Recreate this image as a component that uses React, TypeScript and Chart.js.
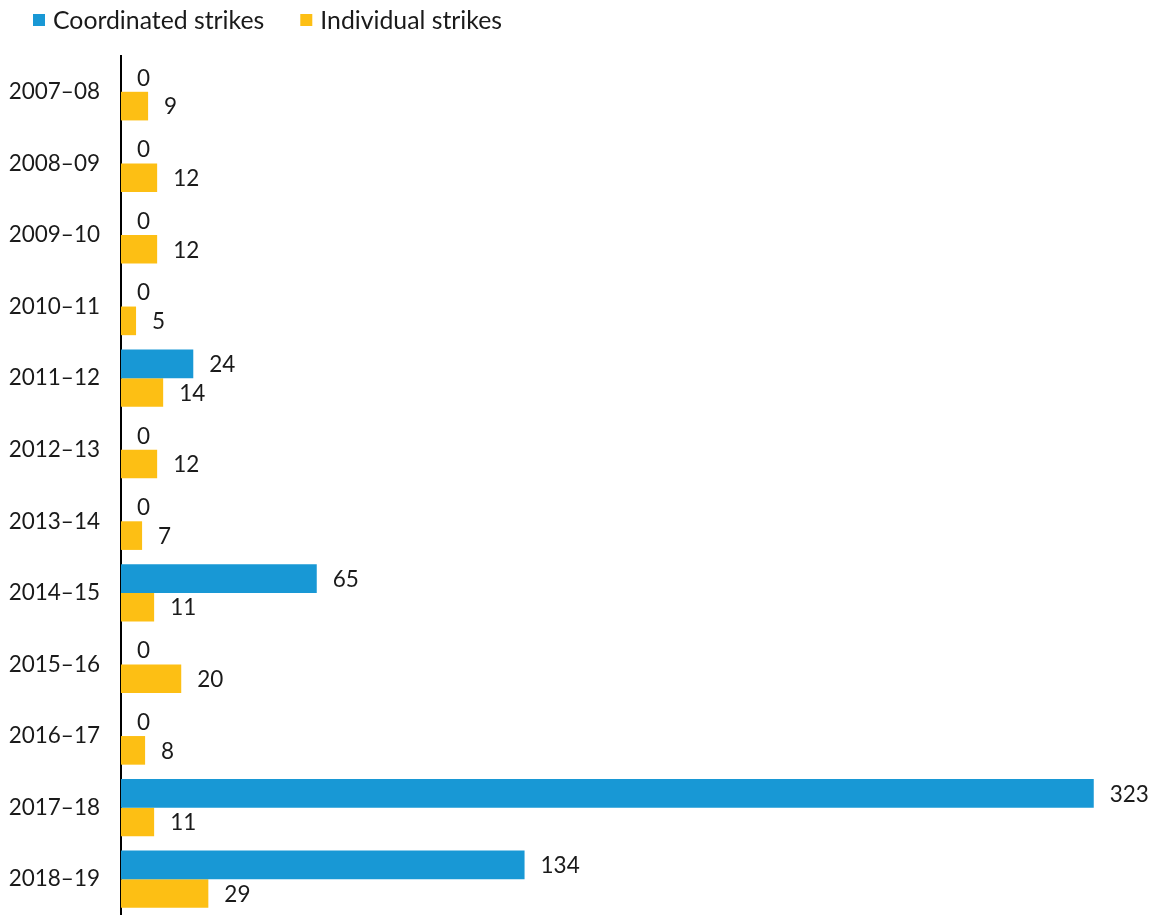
import React, { useEffect, useRef } from "react";
import { Chart, registerables } from "chart.js";

Chart.register(...registerables);

const seasons = [
  "2007\u201308", "2008\u201309", "2009\u201310", "2010\u201311", "2011\u201312", "2012\u201313",
  "2013\u201314", "2014\u201315", "2015\u201316", "2016\u201317", "2017\u201318", "2018\u201319",
];
const coordinated = [0, 0, 0, 0, 24, 0, 0, 65, 0, 0, 323, 134];
const individual = [9, 12, 12, 5, 14, 12, 7, 11, 20, 8, 11, 29];

const BLUE = "#1898d5";
const YELLOW = "#fdbf14";
const TEXT = "#1a1a1a";
const FONT = "Lato, 'Open Sans', sans-serif";

// Numbers written just past the end of each bar
const valueLabels = {
  id: "valueLabels",
  afterDatasetsDraw(chart: any) {
    const ctx = chart.ctx;
    ctx.save();
    ctx.font = `22.5px ${FONT}`;
    ctx.fillStyle = TEXT;
    ctx.textAlign = "left";
    ctx.textBaseline = "middle";
    chart.data.datasets.forEach((ds: any, i: number) => {
      const meta = chart.getDatasetMeta(i);
      meta.data.forEach((el: any, j: number) => {
        ctx.fillText(String(ds.data[j]), el.x + 16, el.y + 1);
      });
    });
    ctx.restore();
  },
};

// Legend row in the top-left corner: square swatch followed by the series name
const topLegend = {
  id: "topLegend",
  afterDraw(chart: any) {
    const ctx = chart.ctx;
    ctx.save();
    ctx.font = `24.8px ${FONT}`;
    ctx.textAlign = "left";
    ctx.textBaseline = "middle";
    let x = 33;
    const cy = 20;
    chart.data.datasets.forEach((ds: any) => {
      ctx.fillStyle = ds.backgroundColor;
      ctx.fillRect(x, cy - 6, 12, 12);
      ctx.fillStyle = TEXT;
      ctx.fillText(ds.label, x + 20, cy + 1);
      x += 20 + ctx.measureText(ds.label).width + 36;
    });
    ctx.restore();
  },
};

export default function App() {
  const ref = useRef<HTMLCanvasElement>(null);
  useEffect(() => {
    if (!ref.current) return;
    const chart = new Chart(ref.current, {
      type: "bar",
      data: {
        labels: seasons,
        datasets: [
          { label: "Coordinated strikes", data: coordinated, backgroundColor: BLUE, borderWidth: 0 },
          { label: "Individual strikes", data: individual, backgroundColor: YELLOW, borderWidth: 0 },
        ],
      },
      options: {
        indexAxis: "y",
        responsive: false,
        animation: false,
        layout: { padding: { left: 0, right: 0, top: 56, bottom: -4 } },
        datasets: { bar: { categoryPercentage: 0.8, barPercentage: 1 } },
        plugins: {
          tooltip: { enabled: false },
          legend: { display: false },
        },
        scales: {
          x: { display: false, min: 0, max: 344 },
          y: {
            grid: { display: false, drawTicks: false },
            border: { display: true, color: "#000", width: 2 },
            ticks: { font: { family: FONT, size: 22.5 }, color: TEXT, padding: 21 },
            afterFit: (s: any) => {
              s.width = 121;
              s.paddingTop = 0;
              s.paddingBottom = 0;
            },
          },
        },
      } as any,
      plugins: [valueLabels, topLegend],
    });
    return () => chart.destroy();
  }, []);
  return (
    <div style={{ position: "absolute", left: 0, top: 0, width: 1157, height: 915 }}>
      <canvas ref={ref} width={1157} height={915} />
    </div>
  );
}
